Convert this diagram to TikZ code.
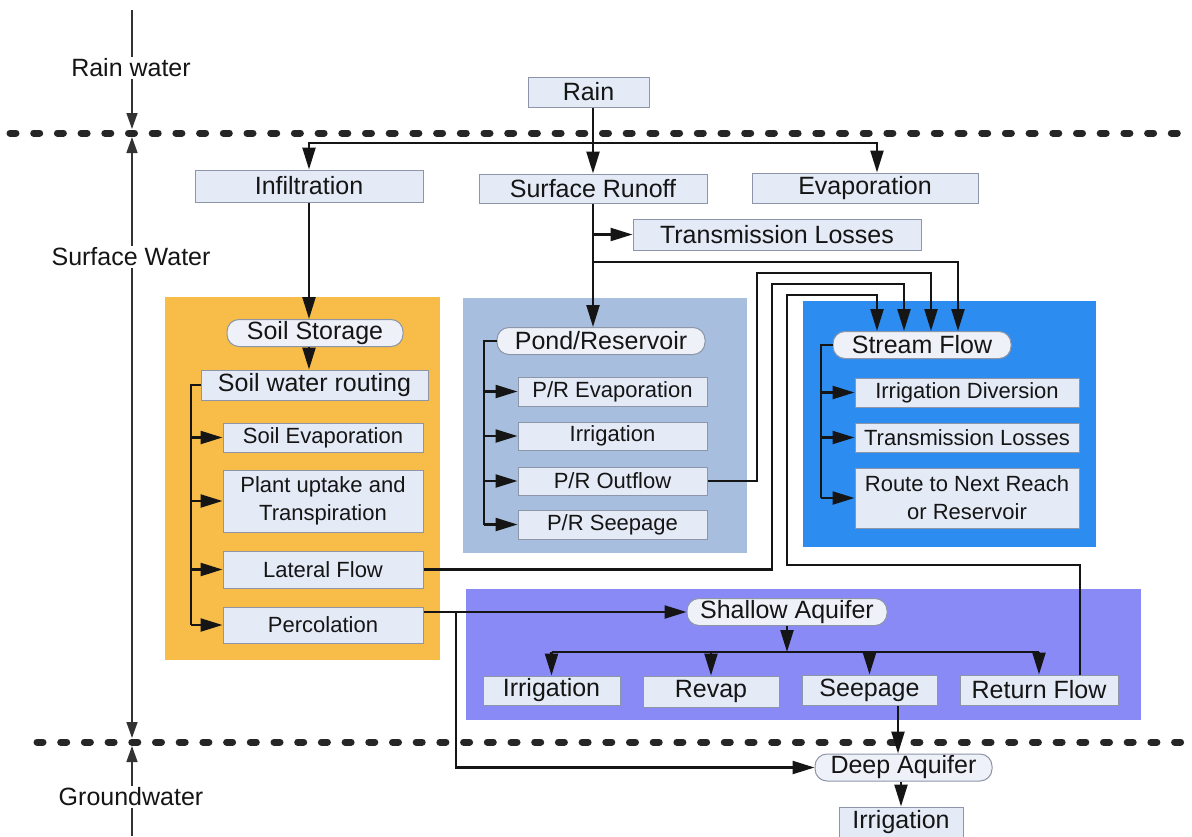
\documentclass[tikz,border=0pt]{standalone}
\usepackage{fontspec}
\setmainfont{Liberation Sans}
\usetikzlibrary{arrows.meta,calc}
\newcommand\fbig{\fontsize{25}{28}\selectfont}
\newcommand\fsmall{\fontsize{22}{28}\selectfont}
\definecolor{orangebg}{HTML}{F7BD48}
\definecolor{pondbg}{HTML}{A8BEDE}
\definecolor{streambg}{HTML}{2C8CF0}
\definecolor{aquibg}{HTML}{8A8AF6}
\definecolor{boxfill}{HTML}{E4EAF6}
\definecolor{pillfill}{HTML}{EEF1F8}
\definecolor{boxline}{HTML}{8C96A8}
\definecolor{inkc}{HTML}{151515}
\tikzset{
 box/.style={draw=boxline, fill=boxfill, line width=1pt, inner sep=0pt, font=\fbig, text=inkc, align=center},
 pill/.style={box, rounded corners=12pt, fill=pillfill},
 sm/.style={font=\fsmall},
 ln/.style={line width=2.3pt, draw=inkc},
 arr/.style={ln, -{Triangle[length=22pt,width=13pt]}},
 dashline/.style={line width=7pt, line cap=round, dash pattern=on 6pt off 17.7pt, draw=black!85},
 axis/.style={line width=1.4pt, draw=black!80},
 axarr/.style={axis, -{Triangle[length=16pt,width=11pt]}},
 lab/.style={fill=white, inner sep=2pt, font=\fbig, text=inkc}
}
\begin{document}
\begin{tikzpicture}[x=1pt,y=-1pt]
\fill[white] (0,0) rectangle (1192,836);
\useasboundingbox (0,0) rectangle (1192,836);

% background panels
\fill[orangebg] (165,297) rectangle (440,660);
\fill[pondbg] (463,298) rectangle (747,553);
\fill[streambg] (803,301) rectangle (1096,547);
\fill[aquibg] (466,589) rectangle (1141,720);

% dashed boundaries
\draw[dashline] (10,133) -- (1192,133);
\draw[dashline] (37,742) -- (1192,742);

% left axis
\draw[axarr] (132,10) -- (132,129);
\draw[axis, {Triangle[length=16pt,width=11pt]}-{Triangle[length=16pt,width=11pt]}] (132,137) -- (132,738);
\draw[axarr] (132,836) -- (132,746);
\node[lab] (lrain) at (131,68) {Rain water};
\node[lab] (lsurf) at (131,257) {Surface Water};
\node[lab] (lground) at (131,797) {Groundwater};

% top nodes
\node[box, minimum width=121pt, minimum height=30pt] (rain) at (588.5,92) {Rain};
\node[box, minimum width=228pt, minimum height=32pt] (infil) at (309,186) {Infiltration};
\node[box, minimum width=228pt, minimum height=29pt] (surf) at (593,188.5) {Surface Runoff};
\node[box, minimum width=226pt, minimum height=30pt] (evap) at (865,188) {Evaporation};
\node[box, minimum width=288pt, minimum height=31pt] (tloss) at (777,234.5) {Transmission Losses};

% soil panel
\node[pill, minimum width=176pt, minimum height=27pt] (soilst) at (315,333) {Soil Storage};
\node[box, minimum width=227pt, minimum height=30pt] (routing) at (314.5,385) {Soil water routing};
\node[box, sm, minimum width=200pt, minimum height=29pt] (sevap) at (323,437.5) {Soil Evaporation};
\node[box, sm, minimum width=200pt, minimum height=62pt] (plant) at (323,501) {Plant uptake and\\Transpiration};
\node[box, sm, minimum width=200pt, minimum height=37pt] (lateral) at (323,569.5) {Lateral Flow};
\node[box, sm, minimum width=200pt, minimum height=36pt] (percol) at (323,625) {Percolation};

% pond panel
\node[pill, minimum width=208pt, minimum height=27pt] (pond) at (601,341) {Pond/Reservoir};
\node[box, sm, minimum width=189pt, minimum height=29pt] (prevap) at (612.5,391.5) {P/R Evaporation};
\node[box, sm, minimum width=189pt, minimum height=28pt] (pirr) at (612.5,436) {Irrigation};
\node[box, sm, minimum width=189pt, minimum height=28pt] (pout) at (612.5,481) {P/R Outflow};
\node[box, sm, minimum width=189pt, minimum height=29pt] (pseep) at (612.5,524.5) {P/R Seepage};

% stream panel
\node[pill, minimum width=178pt, minimum height=27pt] (stream) at (922,345) {Stream Flow};
\node[box, sm, minimum width=224pt, minimum height=29pt] (idiv) at (967,392.5) {Irrigation Diversion};
\node[box, sm, minimum width=224pt, minimum height=29pt] (stloss) at (967,437.5) {Transmission Losses};
\node[box, sm, minimum width=224pt, minimum height=60pt] (route) at (967,498) {Route to Next Reach\\or Reservoir};

% aquifer panel
\node[pill, minimum width=200pt, minimum height=27pt] (shallow) at (787,612) {Shallow Aquifer};
\node[box, minimum width=137pt, minimum height=29pt] (airr) at (551.5,690.5) {Irrigation};
\node[box, minimum width=136pt, minimum height=31pt] (revap) at (711,691.5) {Revap};
\node[box, minimum width=135pt, minimum height=30pt] (seep) at (869.5,690) {Seepage};
\node[box, minimum width=158pt, minimum height=30pt] (retf) at (1039,690) {Return Flow};

% groundwater
\node[pill, minimum width=177pt, minimum height=27pt] (deep) at (903.5,767.5) {Deep Aquifer};
\node[box, minimum width=124pt, minimum height=30pt] (dirr) at (901,822) {Irrigation};

% coordinates
\coordinate (jr) at (593,143);
\coordinate (jA) at (593,262);
\coordinate (b1) at (757,273);
\coordinate (cC) at (772,284);
\coordinate (d1) at (1080,565);
\coordinate (d2) at (787,295);
\coordinate (sb) at (191,385);
\coordinate (pb) at (484,341);
\coordinate (stb) at (821,345);
\coordinate (pc) at (456,612);
\coordinate (sj) at (787,652);

% rain distribution
\draw[arr] (rain.south -| surf.north) -- (surf.north);
\draw[arr] (jr) -| (infil.north);
\draw[arr] (jr) -| ([xshift=12pt]evap.north);

% surface runoff
\draw[arr] (surf.south) -- (surf.south |- pond.north);
\draw[arr] (surf.south |- tloss.west) -- (tloss.west);
\draw[arr] (jA) -| ([xshift=36pt]stream.north);

% infiltration / soil
\draw[arr] (infil.south) -- (infil.south |- soilst.north);
\draw[arr] (soilst.south -| infil.south) -- (routing.north -| infil.south);
\draw[ln] (routing.west) -- (sb) -- (sb |- percol.west);
\foreach \n in {sevap,plant,lateral,percol} \draw[arr] (sb |- \n.west) -- (\n.west);

% pond branch
\draw[ln] (pond.west) -- (pb) -- (pb |- pseep.west);
\foreach \n in {prevap,pirr,pout,pseep} \draw[arr] (pb |- \n.west) -- (\n.west);

% stream branch
\draw[ln] (stream.west) -- (stb) -- (stb |- route.west);
\foreach \n in {idiv,stloss,route} \draw[arr] (stb |- \n.west) -- (\n.west);

% flows into stream
\draw[arr] (pout.east) -| (b1) -| ([xshift=9pt]stream.north);
\draw[arr] (lateral.east) -| (cC) -| ([xshift=-18pt]stream.north);
\draw[arr] (retf.north -| d1) -- (d1) -| (d2) -| ([xshift=-45pt]stream.north);

% percolation
\draw[arr] (percol.east |- shallow.west) -- (shallow.west);
\draw[arr] (pc) |- (deep.west);

% shallow aquifer
\draw[arr] (shallow.south) -- (sj);
\draw[ln] (airr.north |- sj) -- (retf.north |- sj);
\foreach \n in {airr,revap,seep,retf} \draw[arr] (\n.north |- sj) -- (\n.north);

% deep
\draw[arr] ([xshift=28.5pt]seep.south) -- ([xshift=28.5pt]seep.south |- deep.north);
\draw[arr] (deep.south -| dirr.north) -- (dirr.north);
\end{tikzpicture}
\end{document}
